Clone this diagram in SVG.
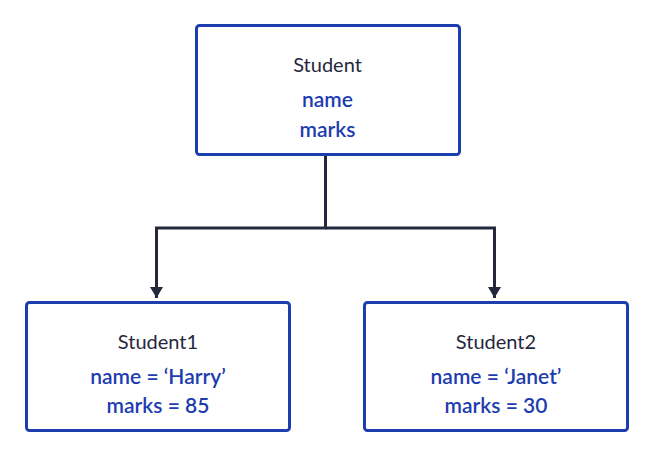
<svg xmlns="http://www.w3.org/2000/svg" width="654" height="461" viewBox="0 0 654 461">
<style>
.box{fill:#fff;stroke:#1d3fae;stroke-width:3}
.title{font-family:Lato,"Noto Sans",sans-serif;font-size:20px;fill:#25283d;text-anchor:middle}
.attr{font-family:Lato,"Noto Sans",sans-serif;font-size:21px;font-weight:600;fill:#1d3cb0;text-anchor:middle}
.conn{fill:none;stroke:#25283d;stroke-width:3}
</style>
<defs>
<marker id="arr" markerWidth="12" markerHeight="13" refX="11" refY="6.5" orient="auto" markerUnits="userSpaceOnUse">
<path d="M0,0 L11,6.5 L0,13 Z" fill="#25283d"/>
</marker>
</defs>
<rect width="654" height="461" fill="#fff"/>
<g id="connectors">
<path class="conn" d="M325.5,155 V228 H156.5 V298" marker-end="url(#arr)"/>
<path class="conn" d="M325.5,228 H494.5 V298" marker-end="url(#arr)"/>
</g>
<g id="student">
<rect class="box" x="196.5" y="25.5" width="263" height="129" rx="3"/>
<text class="title" x="327.5" y="72">Student</text>
<text class="attr" x="327.5" y="107">name</text>
<text class="attr" x="327.5" y="137">marks</text>
</g>
<g id="student1">
<rect class="box" x="26.5" y="302.5" width="263" height="128" rx="3"/>
<text class="title" x="158" y="349">Student1</text>
<text class="attr" x="158" y="384">name = ‘Harry’</text>
<text class="attr" x="158" y="413">marks = 85</text>
</g>
<g id="student2">
<rect class="box" x="364.5" y="302.5" width="263" height="128" rx="3"/>
<text class="title" x="496" y="349">Student2</text>
<text class="attr" x="496" y="384">name = ‘Janet’</text>
<text class="attr" x="496" y="413">marks = 30</text>
</g>
</svg>
